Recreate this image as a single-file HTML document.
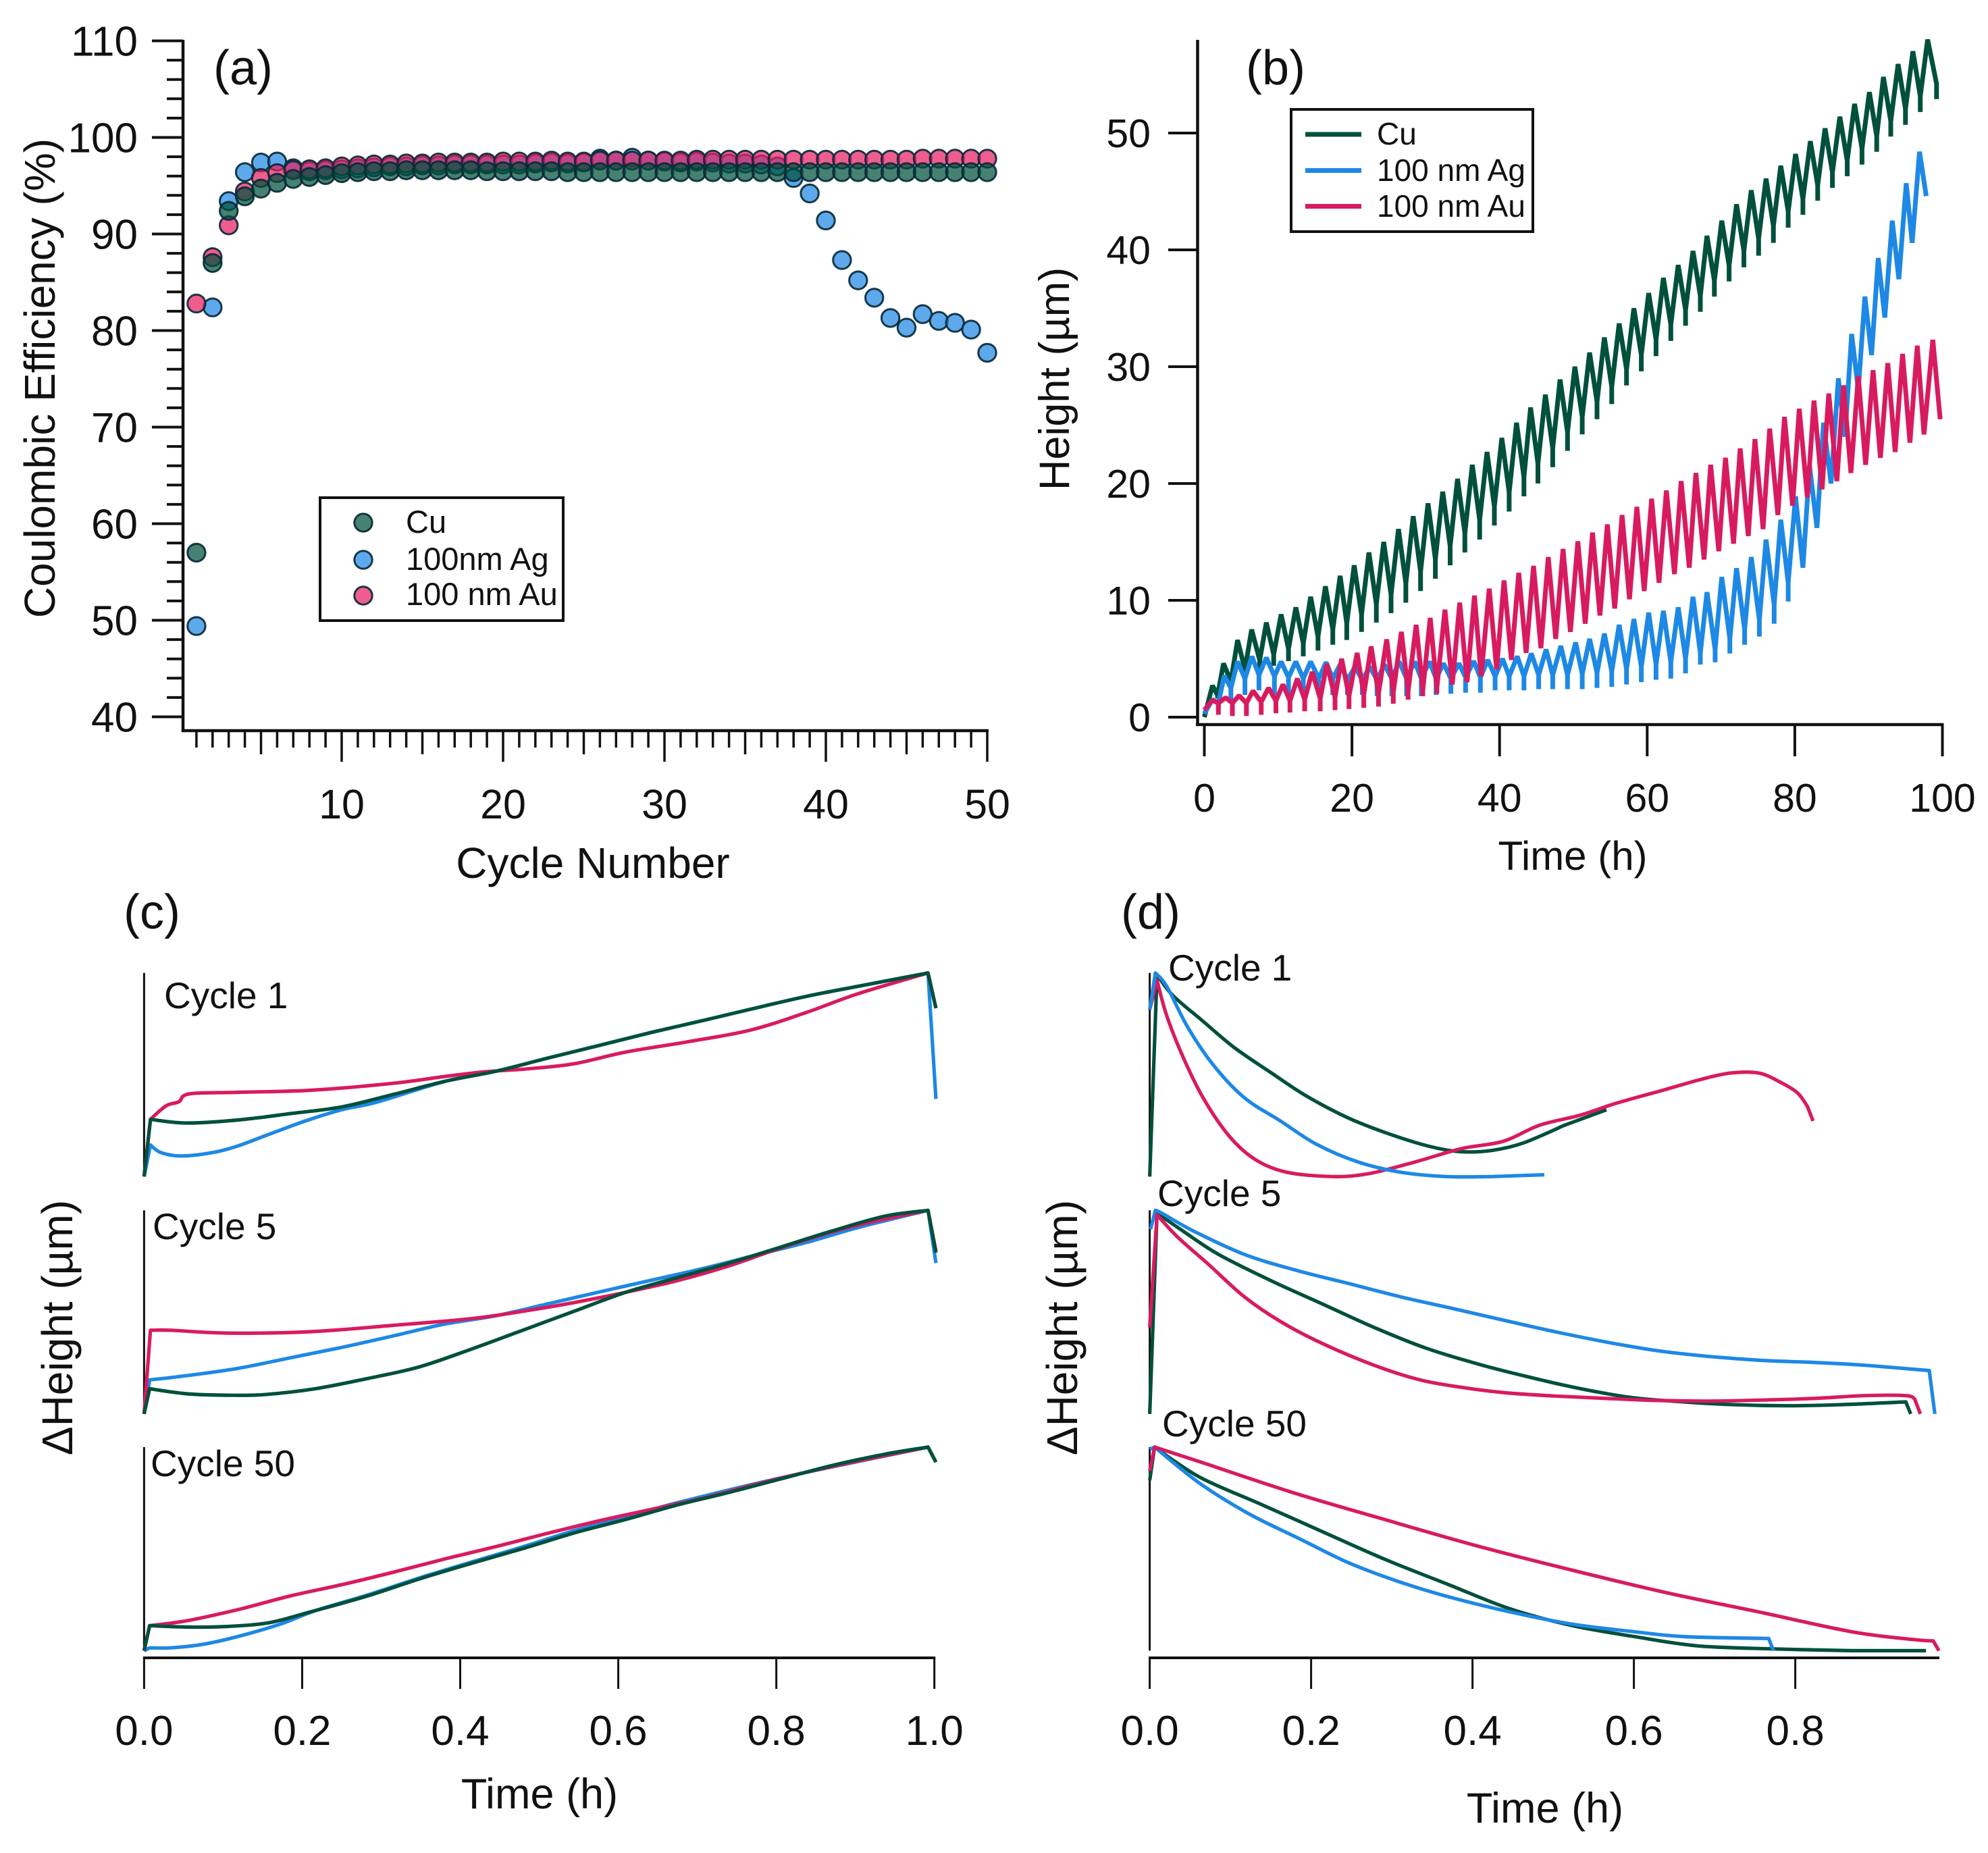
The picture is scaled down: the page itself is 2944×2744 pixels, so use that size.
<!DOCTYPE html>
<html lang="en">
<head>
<meta charset="utf-8">
<title>Coulombic efficiency and height charts</title>
<style>
html,body{margin:0;padding:0;background:#fff;}
svg{display:block;}
text{font-family:"Liberation Sans",sans-serif;fill:#111;}
</style>
</head>
<body>
<svg id="figure" xmlns="http://www.w3.org/2000/svg" width="2944" height="2744" viewBox="0 0 2944 2744">
  <rect x="0" y="0" width="2944" height="2744" fill="#fff"/>

  <g id="panel-a">
    <text x="316" y="125" font-size="72">(a)</text>
    <text transform="translate(81,560) rotate(-90)" text-anchor="middle" font-size="64">Coulombic Efficiency (%)</text>
    <text x="878" y="1300" text-anchor="middle" font-size="64">Cycle Number</text>
  </g>

  <g id="panel-b">
    <text x="1845" y="125" font-size="72">(b)</text>
    <text transform="translate(1583,561) rotate(-90)" text-anchor="middle" font-size="63">Height (µm)</text>
    <text x="2329" y="1288" text-anchor="middle" font-size="60">Time (h)</text>
  </g>

  <g id="panel-c">
    <text x="183" y="1375" font-size="72">(c)</text>
    <text transform="translate(107,1966) rotate(-90)" text-anchor="middle" font-size="64">ΔHeight (µm)</text>
    <text x="799" y="2678" text-anchor="middle" font-size="63">Time (h)</text>
    <text x="243" y="1493" font-size="55">Cycle 1</text>
    <text x="226" y="1835" font-size="55">Cycle 5</text>
    <text x="223" y="2186" font-size="55">Cycle 50</text>
  </g>

  <g id="panel-d">
    <text x="1660" y="1375" font-size="72">(d)</text>
    <text transform="translate(1595,1966) rotate(-90)" text-anchor="middle" font-size="64">ΔHeight (µm)</text>
    <text x="2288" y="2699" text-anchor="middle" font-size="63">Time (h)</text>
    <text x="1730" y="1452" font-size="55">Cycle 1</text>
    <text x="1714" y="1786" font-size="55">Cycle 5</text>
    <text x="1721" y="2127" font-size="55">Cycle 50</text>
  </g>
</svg>

<script>
/* ---------- panel (a): coulombic efficiency ---------- */
const cycles = [1,2,3,4,5,6,7,8,9,10,11,12,13,14,15,16,17,18,19,20,21,22,23,24,25,26,27,28,29,30,31,32,33,34,35,36,37,38,39,40,41,42,43,44,45,46,47,48,49,50];
const ceCu = [57,87,92.4,93.9,94.7,95.3,95.7,95.9,96.1,96.3,96.4,96.5,96.5,96.6,96.6,96.6,96.6,96.6,96.5,96.5,96.5,96.5,96.5,96.4,96.4,96.4,96.4,96.4,96.4,96.4,96.4,96.4,96.4,96.4,96.4,96.4,96.4,96.4,96.4,96.4,96.4,96.4,96.4,96.4,96.4,96.4,96.4,96.4,96.4,96.4];
const ceAg = [49.4,82.4,93.4,96.4,97.4,97.5,96.8,96.5,96.6,96.7,96.8,96.9,97,97,97.1,97.1,97.2,97.2,97.2,97.2,97.2,97.3,97.4,97.3,97.4,97.8,97.6,97.9,97.6,97.5,97.4,97.5,97.4,97.3,97.3,97.2,97,95.8,94.2,91.4,87.3,85.2,83.4,81.3,80.3,81.7,81,80.8,80.1,77.7];
const ceAu = [82.8,87.6,90.9,94.4,95.8,96.3,96.6,96.7,96.8,97,97.1,97.2,97.2,97.3,97.3,97.4,97.4,97.4,97.4,97.5,97.5,97.5,97.6,97.5,97.5,97.6,97.6,97.6,97.6,97.6,97.6,97.7,97.7,97.7,97.7,97.7,97.7,97.7,97.7,97.7,97.7,97.7,97.7,97.7,97.7,97.8,97.8,97.8,97.8,97.8];
const aYTicks = [40,50,60,70,80,90,100,110];
const aXTicks = [10,20,30,40,50];

/* ---------- panel (b): height vs time ---------- */
const cuPeakT = [1.1,2.6,4.5,6.4,8.4,10.4,12.4,14.4,16.4,18.4,20.3,22.3,24.3,26.3,28.3,30.3,32.3,34.3,36.3,38.3,40.3,42.3,44.2,46.2,48.2,50.2,52.2,54.2,56.2,58.2,60.2,62.2,64.2,66.2,68.1,70.1,72.1,74.1,76.1,78.1,80.1,82.1,84.1,86.1,88.1,90.1,92,94,96,98];
const cuPeakV = [2.7,4.6,6.6,7.5,8.1,8.8,9.4,10.3,11.2,12.1,13,14.1,15,16.1,17.2,18.3,19.3,20.4,21.6,22.7,23.9,25.2,26.5,27.6,28.9,30,31.2,32.5,33.7,35,36.3,37.6,38.7,39.9,41.2,42.5,43.9,45.1,46.1,47.2,48.2,49.3,50.4,51.4,52.5,53.5,54.8,55.9,57,58];
const cuTroughT = [1.8,3.6,5.5,7.5,9.4,11.4,13.4,15.4,17.4,19.3,21.3,23.3,25.3,27.3,29.3,31.3,33.3,35.3,37.3,39.3,41.3,43.3,45.2,47.2,49.2,51.2,53.2,55.2,57.2,59.2,61.2,63.2,65.2,67.2,69.1,71.1,73.1,75.1,77.1,79.1,81.1,83.1,85.1,87.1,89.1,91.1,93,95,97,99.2];
const cuTroughV = [1.6,2.5,3.2,3.95,4.4,4.8,5.2,5.7,6.2,6.6,7.3,8.1,8.9,9.8,10.8,11.85,13,14.1,15.2,16.4,17.6,18.9,20,21.4,22.8,24.2,25.5,26.8,28.4,29.6,30.9,32.2,33.5,34.7,36,37.3,38.5,39.5,40.6,41.9,43,44.2,45.3,46.3,47.3,48.4,49.7,50.7,51.8,52.9];

const agPeakT = [1.1,2.7,4.5,6.45,8.4,10.4,12.4,14.4,16.5,18.4,20.4,22.4,24.4,26.4,28.5,30.5,32.4,34.5,36.5,38.4,40.4,42.4,44.3,46.3,48.3,50.3,52.2,54.2,56.2,58.2,60.2,62.2,64.2,66.2,68.1,70.1,72.1,74.1,76.1,78.1,80.1,82,83.9,85.9,87.7,89.5,91.3,93.2,95.1,96.9];
const agPeakV = [1.5,3.55,4.76,5.2,5.1,4.76,4.76,4.76,4.7,4.5,4.3,4.3,4.5,4.76,4.76,4.76,4.6,4.6,4.8,4.9,5,5.2,5.45,5.8,6.1,6.4,6.7,7.15,7.9,8.4,8.95,9.1,9.4,10.3,10.7,12,12.75,13.7,15.2,16.9,18.9,21.5,25.2,29,32.8,36,39.3,42.5,45.7,48.4];
const agTroughT = [1.9,3.6,5.5,7.4,9.5,11.4,13.4,15.5,17.4,19.4,21.4,23.4,25.4,27.4,29.4,31.4,33.4,35.4,37.4,39.4,41.3,43.3,45.3,47.2,49.2,51.2,53.2,55.2,57.2,59.2,61.2,63.2,65.2,67.2,69.2,71.2,73.2,75.2,77.2,79.1,81.1,83,84.9,86.8,88.6,90.4,92.2,94.1,95.9,97.8];
const agTroughV = [0.8,1.5,1.9,2.3,1.9,1.9,1.9,1.9,1.9,1.9,1.9,1.8,1.8,1.8,1.8,1.9,2,2.1,2.1,2.3,2.3,2.3,2.4,2.4,2.4,2.4,2.5,2.6,2.8,3,3.2,3.3,3.75,4.5,4.7,5.45,6.2,6.9,8,9.9,12.8,16.2,20,24,28,31,34.2,37.5,40.6,44.6];
const agKneeV = [1.2,2.5,3.3,3.6,3.5,3.4,3.3,3.3,3.3,3.2,3.2,3.2,3.3,3.3,3.3,3.3,3.3,3.4,3.4,3.5,3.5,3.5,3.6,3.6,3.6,3.7,3.8,3.9,4.1,4.3,4.5,4.7,5,5.5,5.8,6.7,7.5,8.3,9.6,11.5];

const auPeakT = [1.05,2.9,4.7,6.6,8.7,10.65,12.6,14.6,16.6,18.6,20.7,22.6,24.7,26.7,28.7,30.6,32.6,34.6,36.6,38.6,40.6,42.6,44.6,46.6,48.6,50.6,52.6,54.6,56.6,58.6,60.6,62.6,64.6,66.6,68.6,70.6,72.6,74.6,76.6,78.6,80.6,82.6,84.6,86.6,88.6,90.6,92.6,94.6,96.6,98.7];
const auPeakV = [1.45,1.67,1.85,2.25,2.5,2.8,3.3,3.87,4.55,5,5.5,6.05,6.66,7.3,7.9,8.5,9.2,9.8,10.4,11,11.7,12.35,12.95,13.7,14.4,15.05,15.8,16.5,17.3,18,18.7,19.4,20.2,20.9,21.6,22.2,23,23.8,24.7,25.7,26.4,27.1,27.7,28.4,29.2,29.7,30.3,31.1,31.8,32.3];
const auTroughT = [1.9,3.8,5.7,7.7,9.7,11.6,13.6,15.7,17.7,19.6,21.6,23.6,25.6,27.6,29.6,31.5,33.6,35.6,37.5,39.6,41.6,43.6,45.6,47.6,49.6,51.6,53.6,55.6,57.6,59.6,61.6,63.7,65.7,67.7,69.7,71.7,73.7,75.7,77.7,79.7,81.7,83.7,85.7,87.6,89.6,91.6,93.6,95.6,97.5,99.7];
const auTroughV = [0.2,0.1,0.1,0.2,0.33,0.4,0.5,0.5,0.6,0.7,0.8,0.9,1.15,1.5,1.8,2,2.9,3.4,4,4.55,4.9,5.5,5.9,6.7,7.3,8,8.7,9.3,10.1,10.8,11.5,12.25,12.8,13.5,14.2,14.85,15.5,16.1,17.3,18.1,18.8,19.5,20.2,20.9,21.6,22.2,22.7,23.5,24.2,25.5];
const auKneeV = [1.2,1.2,1.2,1.3,1.4,1.4,1.5,1.6,1.7,1.8,1.9,2,2.1,2.2,2.3,2.5,2.8,3,3.5,4.1];
const bXTicks = [0,20,40,60,80,100];
const bYTicks = [0,10,20,30,40,50];

/* ---------- panel (c): plating profiles (time, normalised height) ---------- */
const cCycle1CuT = [0,0.008,0.054,0.119,0.185,0.25,0.315,0.381,0.446,0.512,0.577,0.642,0.708,0.773,0.838,0.904,0.992,1.002];
const cCycle1CuH = [0,0.281,0.263,0.278,0.309,0.342,0.403,0.468,0.518,0.583,0.645,0.708,0.767,0.827,0.885,0.935,1,0.827];
const cCycle1AgT = [0,0.008,0.021,0.047,0.087,0.119,0.159,0.204,0.25,0.296,0.381,0.446,0.512,0.577,0.642,0.708,0.773,0.838,0.904,0.992,1.002];
const cCycle1AgH = [0,0.155,0.118,0.101,0.118,0.151,0.209,0.273,0.328,0.367,0.468,0.518,0.583,0.645,0.708,0.767,0.827,0.885,0.935,1,0.381];
const cCycle1AuT = [0,0.008,0.028,0.044,0.057,0.119,0.211,0.315,0.381,0.433,0.485,0.544,0.61,0.688,0.767,0.838,0.904,0.992,1.002];
const cCycle1AuH = [0,0.281,0.348,0.367,0.406,0.414,0.424,0.458,0.492,0.515,0.529,0.554,0.612,0.662,0.719,0.806,0.899,1,0.827];

const cCycle5CuT = [0,0.007,0.054,0.106,0.152,0.217,0.283,0.348,0.414,0.479,0.544,0.61,0.675,0.74,0.806,0.871,0.937,0.992,1.002];
const cCycle5CuH = [0,0.124,0.099,0.092,0.095,0.124,0.174,0.231,0.318,0.411,0.504,0.598,0.67,0.741,0.82,0.899,0.971,1,0.792];
const cCycle5AgT = [0,0.007,0.054,0.119,0.183,0.248,0.314,0.379,0.446,0.51,0.575,0.64,0.706,0.771,0.838,0.902,0.992,1.002];
const cCycle5AgH = [0,0.167,0.188,0.224,0.274,0.325,0.382,0.44,0.483,0.54,0.598,0.655,0.713,0.777,0.842,0.914,1,0.741];
const cCycle5AuT = [0,0.008,0.034,0.106,0.211,0.315,0.414,0.479,0.544,0.61,0.675,0.74,0.793,0.838,0.904,0.992,1.002];
const cCycle5AuH = [0,0.411,0.411,0.397,0.404,0.435,0.468,0.504,0.547,0.598,0.655,0.727,0.799,0.856,0.928,1,0.8];

const cCycle50CuT = [0,0.007,0.054,0.106,0.159,0.211,0.283,0.348,0.414,0.479,0.544,0.61,0.675,0.74,0.806,0.871,0.937,0.992,1.002];
const cCycle50CuH = [0,0.123,0.116,0.119,0.138,0.191,0.269,0.352,0.429,0.501,0.578,0.645,0.716,0.777,0.844,0.91,0.965,1,0.926];
const cCycle50AgT = [0,0.007,0.034,0.074,0.119,0.172,0.217,0.283,0.348,0.414,0.479,0.544,0.61,0.675,0.806,0.992,1.002];
const cCycle50AgH = [0,0.014,0.014,0.031,0.07,0.13,0.197,0.274,0.357,0.435,0.51,0.589,0.656,0.727,0.849,1,0.926];
const cCycle50AuT = [0,0.007,0.054,0.119,0.185,0.25,0.315,0.381,0.446,0.512,0.577,0.642,0.708,0.773,0.838,0.904,0.992,1.002];
const cCycle50AuH = [0,0.123,0.147,0.202,0.269,0.324,0.385,0.451,0.512,0.578,0.639,0.694,0.75,0.816,0.877,0.932,1,0.926];
const cXTicks = [0,0.2,0.4,0.6,0.8,1];

/* ---------- panel (d): stripping profiles (time, normalised height) ---------- */
const dCycle1CuT = [0,0.009,0.028,0.066,0.105,0.15,0.194,0.246,0.297,0.348,0.386,0.425,0.463,0.514,0.566];
const dCycle1CuH = [0,0.993,0.892,0.763,0.633,0.511,0.396,0.288,0.209,0.147,0.122,0.129,0.165,0.252,0.328];
const dCycle1AgT = [0,0.007,0.021,0.047,0.079,0.117,0.162,0.207,0.258,0.31,0.367,0.425,0.489];
const dCycle1AgH = [0.82,1,0.935,0.734,0.547,0.388,0.273,0.158,0.072,0.022,0,0,0.009];
const dCycle1AuT = [0,0.009,0.021,0.041,0.066,0.098,0.13,0.169,0.226,0.271,0.329,0.386,0.438,0.483,0.534,0.578,0.636,0.681,0.719,0.755,0.783,0.803,0.815,0.822];
const dCycle1AuH = [0.82,0.964,0.791,0.59,0.388,0.201,0.086,0.022,0,0.014,0.072,0.137,0.173,0.252,0.302,0.36,0.424,0.475,0.508,0.508,0.46,0.41,0.345,0.273];

const dCycle5CuT = [0,0.009,0.041,0.085,0.15,0.214,0.278,0.341,0.406,0.47,0.534,0.598,0.662,0.726,0.79,0.854,0.937,0.943];
const dCycle5CuH = [0,0.986,0.899,0.784,0.655,0.54,0.425,0.325,0.246,0.181,0.124,0.08,0.059,0.045,0.04,0.045,0.059,0];
const dCycle5AgT = [0.001,0.007,0.015,0.054,0.117,0.182,0.246,0.31,0.374,0.438,0.502,0.566,0.63,0.694,0.758,0.822,0.886,0.966,0.973];
const dCycle5AgH = [0.907,1,0.986,0.899,0.784,0.705,0.641,0.576,0.519,0.461,0.404,0.353,0.31,0.282,0.263,0.253,0.239,0.213,0];
const dCycle5AuT = [0,0.009,0.034,0.073,0.117,0.162,0.214,0.278,0.335,0.386,0.438,0.502,0.566,0.63,0.694,0.758,0.822,0.886,0.937,0.948,0.955];
const dCycle5AuH = [0.425,0.978,0.871,0.734,0.576,0.454,0.346,0.239,0.167,0.131,0.105,0.088,0.076,0.066,0.063,0.068,0.076,0.09,0.09,0.073,0];

const dCycle50CuT = [0,0.006,0.062,0.139,0.216,0.293,0.37,0.447,0.524,0.601,0.678,0.77,0.87,0.962];
const dCycle50CuH = [0.837,1,0.852,0.717,0.581,0.446,0.325,0.205,0.123,0.069,0.024,0.009,0,0];
const dCycle50AgT = [0,0.006,0.062,0.123,0.185,0.247,0.308,0.37,0.447,0.524,0.601,0.663,0.767,0.773];
const dCycle50AgH = [0.988,1,0.822,0.672,0.551,0.431,0.34,0.265,0.19,0.13,0.093,0.069,0.06,0];
const dCycle50AuT = [0,0.006,0.062,0.177,0.293,0.408,0.524,0.639,0.755,0.87,0.948,0.971,0.978];
const dCycle50AuH = [0.883,1,0.928,0.777,0.642,0.512,0.395,0.286,0.19,0.093,0.054,0.048,0];
const dXTicks = [0,0.2,0.4,0.6,0.8];

/* ---------- colours ---------- */
const CU = '#00503c';
const AG = '#1e88e5';
const AU = '#d81b60';
const SVGNS = 'http://www.w3.org/2000/svg';
const INK = '#111';

/* ---------- axis functions ---------- */
const xA = c => 506 + (c - 10) * 23.9;
const yA = v => 1061.5 - (v - 40) * 14.3;
const xB = t => 1783.5 + t * 10.93;
const yB = v => 1062 - v * 17.3;
const xC = t => 213.4 + t * 1170.3;
const xD = t => 1702.6 + t * 1195;
const subBottom = [1742.3, 2093.8, 2444.4];
const subHeight = 301.5;
const ySub = (i, h) => subBottom[i] - h * subHeight;

function mk(tag, attrs, parent) {
  const node = document.createElementNS(SVGNS, tag);
  for (const k in attrs) node.setAttribute(k, attrs[k]);
  parent.appendChild(node);
  return node;
}
function line(parent, name, x1, y1, x2, y2, w) {
  const el = mk('line', {x1: x1, y1: y1, x2: x2, y2: y2, stroke: INK, 'stroke-width': w}, parent);
  
  
  return el;
}
function label(parent, name, x, y, size, anchor, str) {
  const el = mk('text', {x: x, y: y, 'font-size': size, 'text-anchor': anchor}, parent);
  el.textContent = str;
  
  
  return el;
}
function polyline(parent, name, pts, color, w) {
  const el = mk('polyline', {points: pts.map(p => p[0].toFixed(1) + ',' + p[1].toFixed(1)).join(' '), fill: 'none', stroke: color, 'stroke-width': w, 'stroke-linejoin': 'bevel', 'stroke-linecap': 'butt'}, parent);
  
  
  return el;
}
function dot(parent, name, cx, cy, fill) {
  const el = mk('circle', {cx: cx, cy: cy, r: 13.2, fill: fill, 'fill-opacity': 0.72, stroke: '#0a2a38', 'stroke-width': 3, 'stroke-opacity': 0.92}, parent);
  
  
  return el;
}
/* straight first and last segments; smooth curve through the interior read points */
function smoothD(pts) {
  const n = pts.length;
  const f = v => v.toFixed(1);
  let d = 'M' + f(pts[0][0]) + ' ' + f(pts[0][1]) + ' L' + f(pts[1][0]) + ' ' + f(pts[1][1]);
  for (let i = 1; i < n - 2; i++) {
    const p0 = i > 1 ? pts[i - 1] : pts[i];
    const p1 = pts[i];
    const p2 = pts[i + 1];
    const p3 = i + 2 <= n - 2 ? pts[i + 2] : p2;
    d += ' C' + f(p1[0] + (p2[0] - p0[0]) / 6) + ' ' + f(p1[1] + (p2[1] - p0[1]) / 6) + ' ' + f(p2[0] - (p3[0] - p1[0]) / 6) + ' ' + f(p2[1] - (p3[1] - p1[1]) / 6) + ' ' + f(p2[0]) + ' ' + f(p2[1]);
  }
  d += ' L' + f(pts[n - 1][0]) + ' ' + f(pts[n - 1][1]);
  return d;
}

/* ---------- panel (a) ---------- */
const pa = document.getElementById('panel-a');
line(pa, 'y-axis-line-a', 271, 59, 271, 1084, 4.5);
line(pa, 'x-axis-line-a', 269, 1082, xA(50) + 2, 1082, 4.5);
for (let v = 40; v <= 110; v += 2) {
  const major = v % 10 === 0;
  line(pa, major ? 'y-major-tick-a' : 'y-minor-tick-a', major ? 225 : 247, yA(v), 271, yA(v), 4);
}
aYTicks.forEach(v => label(pa, 'y-tick-label-a', 204, yA(v) + 22, 62, 'end', String(v)));
cycles.forEach(c => {
  const len = c % 10 === 0 ? 46 : (c % 5 === 0 ? 35 : 25);
  line(pa, 'x-tick-a', xA(c), 1082, xA(c), 1082 + len, 3.5);
});
aXTicks.forEach(c => label(pa, 'x-tick-label-a', xA(c), 1212, 61, 'middle', String(c)));
cycles.forEach((c, i) => dot(pa, 'point-ag-cycle-' + c, xA(c), yA(ceAg[i]), AG));
cycles.forEach((c, i) => dot(pa, 'point-au-cycle-' + c, xA(c), yA(ceAu[i]), '#e91e63'));
cycles.forEach((c, i) => dot(pa, 'point-cu-cycle-' + c, xA(c), yA(ceCu[i]), CU));

const legA = mk('g', {}, pa);


const legABox = mk('rect', {x: 474, y: 737, width: 360, height: 182, fill: '#fff', stroke: INK, 'stroke-width': 4}, legA);


dot(legA, 'legend-marker-cu', 538, 774, CU);
dot(legA, 'legend-marker-ag', 538, 829, AG);
dot(legA, 'legend-marker-au', 538, 882, '#e91e63');
label(legA, 'legend-entry-cu', 601, 789, 47, 'start', 'Cu');
label(legA, 'legend-entry-ag', 601, 844, 47, 'start', '100nm Ag');
label(legA, 'legend-entry-au', 601, 896, 47, 'start', '100 nm Au');

/* ---------- panel (b) ---------- */
const pb = document.getElementById('panel-b');
function zigzag(peakT, peakV, troughT, troughV, kneeAt, startV) {
  const pts = [[xB(0), yB(startV)]];
  peakT.forEach((t, i) => {
    const k = kneeAt(i);
    pts.push([xB(t), yB(peakV[i])]);
    if (k !== null) pts.push([xB(troughT[i]), yB(k)]);
    pts.push([xB(troughT[i]), yB(troughV[i])]);
    if (k !== null) pts.push([xB(troughT[i]), yB(k)]);
  });
  return pts;
}
const seriesGroupB = mk('g', {}, pb);


polyline(seriesGroupB, 'line-cu-b', zigzag(cuPeakT, cuPeakV, cuTroughT, cuTroughV, i => cuTroughV[i] + 0.26 * (cuPeakV[i] - cuTroughV[i]), 0), CU, 7);
polyline(seriesGroupB, 'line-ag-b', zigzag(agPeakT, agPeakV, agTroughT, agTroughV, i => i < agKneeV.length ? agKneeV[i] : null, 0.3), AG, 7);
polyline(seriesGroupB, 'line-au-b', zigzag(auPeakT, auPeakV, auTroughT, auTroughV, i => i < auKneeV.length ? auKneeV[i] : null, 0.6), AU, 7);

line(pb, 'y-axis-line-b', 1773.5, 59, 1773.5, 1075, 4.5);
line(pb, 'x-axis-line-b', 1771, 1073, xB(100) + 2, 1073, 4.5);
bYTicks.forEach(v => {
  line(pb, 'y-tick-b', 1730, yB(v), 1773.5, yB(v), 4);
  label(pb, 'y-tick-label-b', 1704, yB(v) + 21, 59, 'end', String(v));
});
bXTicks.forEach(t => {
  line(pb, 'x-tick-b', xB(t), 1073, xB(t), 1120, 4);
  label(pb, 'x-tick-label-b', xB(t), 1202, 59, 'middle', String(t));
});

const legB = mk('g', {}, pb);


const legBBox = mk('rect', {x: 1912, y: 162, width: 358, height: 181, fill: '#fff', stroke: INK, 'stroke-width': 4}, legB);


polyline(legB, 'legend-line-cu', [[1933, 199], [2016, 199]], CU, 7);
polyline(legB, 'legend-line-ag', [[1933, 252.5], [2016, 252.5]], AG, 7);
polyline(legB, 'legend-line-au', [[1933, 305.5], [2016, 305.5]], AU, 7);
label(legB, 'legend-entry-cu-b', 2039, 214, 46, 'start', 'Cu');
label(legB, 'legend-entry-ag-b', 2039, 268, 46, 'start', '100 nm Ag');
label(legB, 'legend-entry-au-b', 2039, 321, 46, 'start', '100 nm Au');

/* ---------- panels (c) and (d) ---------- */
function profile(parent, name, xf, sub, ts, hs, color) {
  const el = mk('path', {d: smoothD(ts.map((t, i) => [xf(t), ySub(sub, hs[i])])), fill: 'none', stroke: color, 'stroke-width': 5.2, 'stroke-linejoin': 'round', 'stroke-linecap': 'butt'}, parent);
  
  
  return el;
}
const pc = document.getElementById('panel-c');
[0, 1, 2].forEach(i => line(pc, 'y-axis-line-c', xC(0), ySub(i, 1), xC(0), ySub(i, 0), 3));
profile(pc, 'cycle-1-ag-c', xC, 0, cCycle1AgT, cCycle1AgH, AG);
profile(pc, 'cycle-1-au-c', xC, 0, cCycle1AuT, cCycle1AuH, AU);
profile(pc, 'cycle-1-cu-c', xC, 0, cCycle1CuT, cCycle1CuH, CU);
profile(pc, 'cycle-5-ag-c', xC, 1, cCycle5AgT, cCycle5AgH, AG);
profile(pc, 'cycle-5-au-c', xC, 1, cCycle5AuT, cCycle5AuH, AU);
profile(pc, 'cycle-5-cu-c', xC, 1, cCycle5CuT, cCycle5CuH, CU);
profile(pc, 'cycle-50-ag-c', xC, 2, cCycle50AgT, cCycle50AgH, AG);
profile(pc, 'cycle-50-au-c', xC, 2, cCycle50AuT, cCycle50AuH, AU);
profile(pc, 'cycle-50-cu-c', xC, 2, cCycle50CuT, cCycle50CuH, CU);
line(pc, 'x-axis-line-c', xC(0) - 1.5, 2455, xC(1) + 1.5, 2455, 4);
cXTicks.forEach(t => {
  line(pc, 'x-tick-c', xC(t), 2455, xC(t), 2501, 3);
  label(pc, 'x-tick-label-c', xC(t), 2584, 62, 'middle', t.toFixed(1));
});

const pd = document.getElementById('panel-d');
[0, 1, 2].forEach(i => line(pd, 'y-axis-line-d', xD(0), ySub(i, 1), xD(0), ySub(i, 0), 3));
profile(pd, 'cycle-1-cu-d', xD, 0, dCycle1CuT, dCycle1CuH, CU);
profile(pd, 'cycle-1-au-d', xD, 0, dCycle1AuT, dCycle1AuH, AU);
profile(pd, 'cycle-1-ag-d', xD, 0, dCycle1AgT, dCycle1AgH, AG);
profile(pd, 'cycle-5-cu-d', xD, 1, dCycle5CuT, dCycle5CuH, CU);
profile(pd, 'cycle-5-ag-d', xD, 1, dCycle5AgT, dCycle5AgH, AG);
profile(pd, 'cycle-5-au-d', xD, 1, dCycle5AuT, dCycle5AuH, AU);
profile(pd, 'cycle-50-cu-d', xD, 2, dCycle50CuT, dCycle50CuH, CU);
profile(pd, 'cycle-50-ag-d', xD, 2, dCycle50AgT, dCycle50AgH, AG);
profile(pd, 'cycle-50-au-d', xD, 2, dCycle50AuT, dCycle50AuH, AU);
line(pd, 'x-axis-line-d', xD(0) - 1.5, 2455, 2872, 2455, 4);
dXTicks.forEach(t => {
  line(pd, 'x-tick-d', xD(t), 2455, xD(t), 2501, 3);
  label(pd, 'x-tick-label-d', xD(t), 2584, 62, 'middle', t.toFixed(1));
});
</script>
</body>
</html>
